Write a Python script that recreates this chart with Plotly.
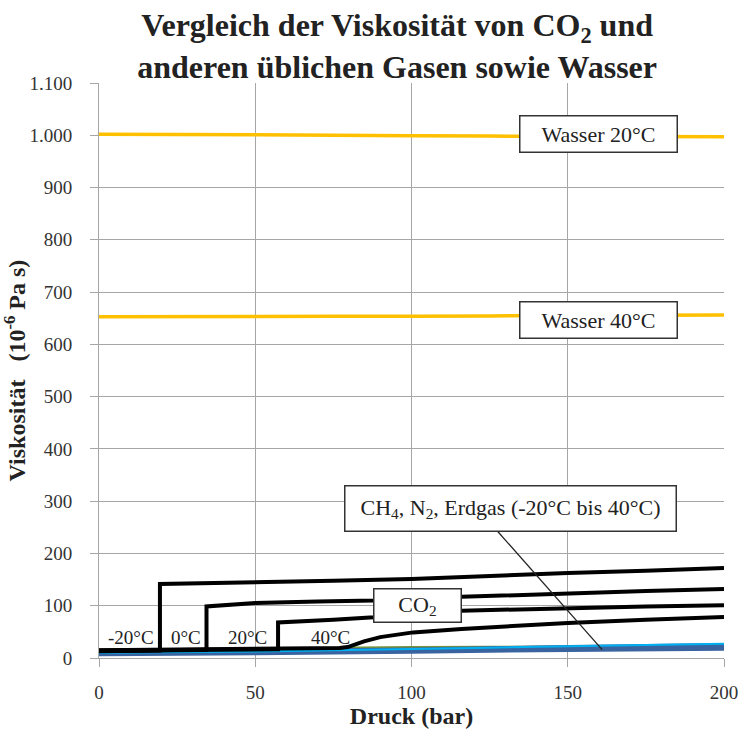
import plotly.graph_objects as go

# ---------------- data ----------------
p_std = [0, 50, 100, 150, 200]

wasser20 = [1002, 1001, 999, 998, 997]
wasser40 = [653, 653.5, 654, 655, 656]

# CO2 isotherms (vertical jump at phase change)
co2_m20_p = [0, 10, 19.5, 19.5, 30, 50, 75, 100, 125, 150, 175, 200]
co2_m20_v = [12.8, 13.5, 14.5, 141.5, 143, 145, 148, 151, 157, 162.5, 167, 172]
co2_0_p = [0, 20, 34.4, 34.4, 50, 70, 88, 116, 150, 175, 200]
co2_0_v = [13.6, 14.5, 15.5, 98.7, 105, 108, 110, 117, 124, 128, 132]
co2_20_p = [0, 30, 57.3, 57.3, 65, 75, 88, 100, 116, 150, 175, 200]
co2_20_v = [14.2, 15.2, 16.5, 68, 70, 73, 78, 85, 90.5, 95.6, 98.5, 101]
co2_40_p = [0, 40, 70, 77, 79.6, 84.8, 90, 95.3, 100.5, 116, 150, 175, 200]
co2_40_v = [14.8, 16, 17.5, 19, 21, 31.8, 40, 44.6, 49, 55.5, 67, 73, 78.4]

# other gases (CH4, N2, natural gas)
gas_green = [16, 18, 21, 22, 23]
gas_light = [10, 12.5, 17, 22.5, 27.5]
gas_dark1 = [7, 9, 12, 15.5, 17.5]
gas_dark2 = [9, 11, 14.5, 18.5, 21.5]
gas_dark3 = [11, 13, 16.5, 21, 25]

temp_labels = ["-20°C", "0°C", "20°C", "40°C"]
temp_label_x = [10.2, 27.9, 47.6, 74.2]
temp_label_y = [39, 39, 39, 39]

FONT = "Liberation Serif"
GOLD = "#FFC000"
DARK = "#3A64A0"
LIGHT = "#00B0F0"
GREEN = "#77933C"

fig = go.Figure()

def line(x, y, color, width):
    fig.add_trace(go.Scatter(x=x, y=y, mode="lines",
                             line=dict(color=color, width=width, shape="spline", smoothing=0.5),
                             showlegend=False, hoverinfo="skip"))

line(p_std, wasser20, GOLD, 3.5)
line(p_std, wasser40, GOLD, 3.5)
line(p_std, gas_green, GREEN, 2)
line(p_std, gas_dark1, DARK, 4)
line(p_std, gas_dark2, DARK, 4)
line(p_std, gas_dark3, DARK, 4)
line(p_std, gas_light, LIGHT, 2)

for px_, pv_ in [(co2_m20_p, co2_m20_v), (co2_0_p, co2_0_v), (co2_20_p, co2_20_v), (co2_40_p, co2_40_v)]:
    fig.add_trace(go.Scatter(x=px_, y=pv_, mode="lines",
                             line=dict(color="black", width=4, shape="linear"),
                             showlegend=False, hoverinfo="skip"))

# temperature labels
for t, x, y in zip(temp_labels, temp_label_x, temp_label_y):
    fig.add_annotation(x=x, y=y, text=t, showarrow=False,
                       font=dict(family=FONT, size=19, color="#222"))

box_font = dict(family=FONT, size=22, color="#222")
def box(x, y, text, w, h):
    fig.add_annotation(x=x, y=y, text=text, showarrow=False, font=box_font,
                       bgcolor="white", bordercolor="#333", borderwidth=1.5,
                       borderpad=2, width=w, height=h)

box(159.7, 1003, "Wasser 20°C", 152, 31)
box(159.7, 647, "Wasser 40°C", 152, 31)
box(102, 100, "CO<sub>2</sub>", 82, 28)

# pointer line for gases
fig.add_shape(type="line", x0=127.6, y0=242, x1=161, y1=16,
              line=dict(color="#222", width=1.3), layer="above")
box(131.8, 286, "CH<sub>4</sub>, N<sub>2</sub>, Erdgas (-20°C bis 40°C)", 326, 40)

fig.update_layout(
    width=740, height=733,
    margin=dict(l=99, r=16, t=83, b=75, autoexpand=False),
    paper_bgcolor="white", plot_bgcolor="white",
    separators=",.",
    font=dict(family=FONT, size=18, color="#333"),
    title=dict(text="<b>Vergleich der Viskosität von CO<sub>2</sub> und<br>anderen üblichen Gasen sowie Wasser</b>",
               x=0.477, xref="paper", xanchor="center",
               y=1 - 36 / 733, yref="container", yanchor="middle",
               font=dict(family=FONT, size=32, color="#222")),
    showlegend=False,
)
fig.update_xaxes(range=[0, 200], dtick=50, tick0=0, automargin=False,
                 showgrid=True, gridcolor="#A6A6A6", gridwidth=1,
                 showline=True, linecolor="#A6A6A6", linewidth=1,
                 ticks="outside", ticklen=8, tickcolor="#A6A6A6",
                 ticklabelstandoff=9,
                 tickfont=dict(family=FONT, size=19, color="#333"),
                 zeroline=False, mirror=False,
                 title=dict(text="<b>Druck (bar)</b>", standoff=2,
                            font=dict(family=FONT, size=24, color="#222")))
fig.update_yaxes(range=[0, 1100], dtick=100, tick0=0, automargin=False,
                 separatethousands=True,
                 showgrid=True, gridcolor="#A6A6A6", gridwidth=1,
                 showline=True, linecolor="#A6A6A6", linewidth=1,
                 ticks="outside", ticklen=8, tickcolor="#A6A6A6",
                 ticklabelstandoff=14,
                 tickfont=dict(family=FONT, size=19, color="#333"),
                 zeroline=False,
                 title=dict(text="<b>Viskosität   (10<sup>-6</sup> Pa s)</b>", standoff=7,
                            font=dict(family=FONT, size=24, color="#222")))

fig.write_html("out.html", config={"displayModeBar": False},
               post_script="document.body.style.margin='0';")
